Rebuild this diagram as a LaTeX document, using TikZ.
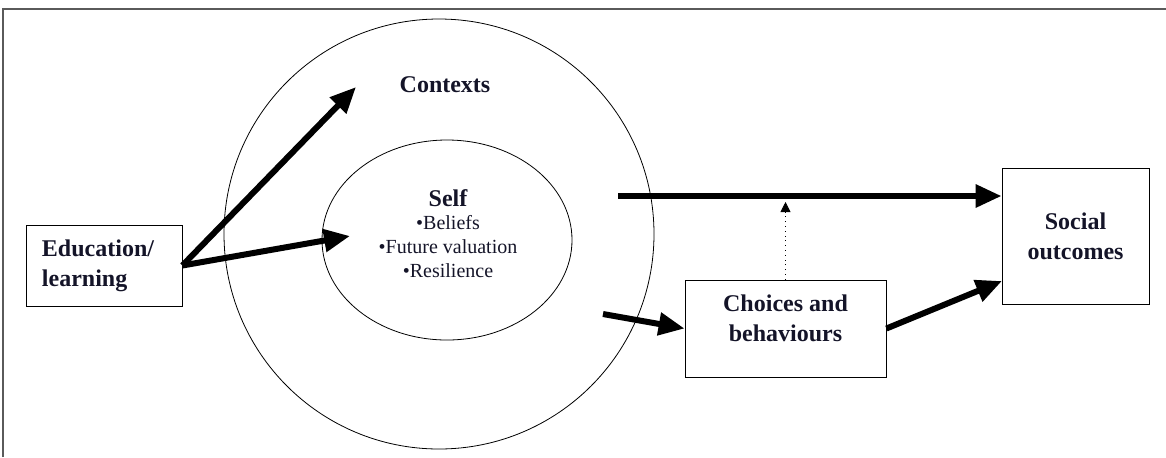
\documentclass[tikz,border=0pt]{standalone}
\usepackage{fontspec}
\setmainfont{Liberation Serif}
\usepackage{tikz}
\usetikzlibrary{arrows.meta,shapes.geometric}
\definecolor{frame_gray}{RGB}{90,90,90}
\definecolor{text_dark}{RGB}{20,20,40}

\begin{document}
\begin{tikzpicture}[x=0.5pt,y=-0.5pt,>={Triangle[length=13pt,width=11pt]}]
    \tikzstyle{box}=[draw=black, thin, rectangle, inner sep=0pt, text=text_dark, font=\bfseries\fontsize{12}{15}\selectfont, align=center]
    \tikzstyle{big}=[->, line width=3pt, shorten <=0pt]
    \tikzstyle{lbl}=[text=text_dark, inner sep=0pt]

    \useasboundingbox (0,0) rectangle (1166,457);
    \draw[frame_gray, line width=1pt] (3,457) -- (3,9) -- (1166,9);

    \node[draw, thin, circle, minimum size=215pt] (ctx) at (439,234) {};
    \node[draw, thin, ellipse, minimum width=125pt, minimum height=100pt] (self) at (447,240) {};

    \node[box, minimum width=78pt, minimum height=40.5pt, align=left] (edu) at (104,265.5) {\hspace*{-6pt}Education/\\\hspace*{-6pt}learning};
    \node[box, minimum width=100.5pt, minimum height=48.5pt, text depth=10pt] (cho) at (785.5,328.5) {Choices and\\behaviours};
    \node[box, minimum width=73.5pt, minimum height=68pt] (soc) at (1075.5,236) {Social\\outcomes};

    \node[lbl, font=\bfseries\fontsize{12}{15}\selectfont] (ctxlbl) at (445,85) {Contexts};
    \node[lbl, font=\bfseries\fontsize{12}{15}\selectfont] (selflbl) at (448,198) {Self};
    \node[lbl, font=\fontsize{10}{12}\selectfont] (b1) at (448,223) {\textbullet Beliefs};
    \node[lbl, font=\fontsize{10}{12}\selectfont] (b2) at (448,247) {\textbullet Future valuation};
    \node[lbl, font=\fontsize{10}{12}\selectfont] (b3) at (448,271) {\textbullet Resilience};

    \coordinate (ctxin) at (356,87);
    \coordinate (selfin) at (350,236);
    \coordinate (hstart) at (618,196);
    \coordinate (choin) at (603,314);
    \coordinate (socin) at (1002,281);

    \path
     (edu.east) edge[big] (ctxin)
     (edu.east) edge[big] (selfin)
     (hstart) edge[big] (soc.west |- hstart)
     (choin) edge[big] (cho.west)
     (cho.east) edge[big] (socin)
     (cho.north) edge[->, thin, dotted, >={Triangle[length=5pt,width=5pt]}] ([yshift=-3pt]cho.north |- hstart)
     ;
\end{tikzpicture}
\end{document}
